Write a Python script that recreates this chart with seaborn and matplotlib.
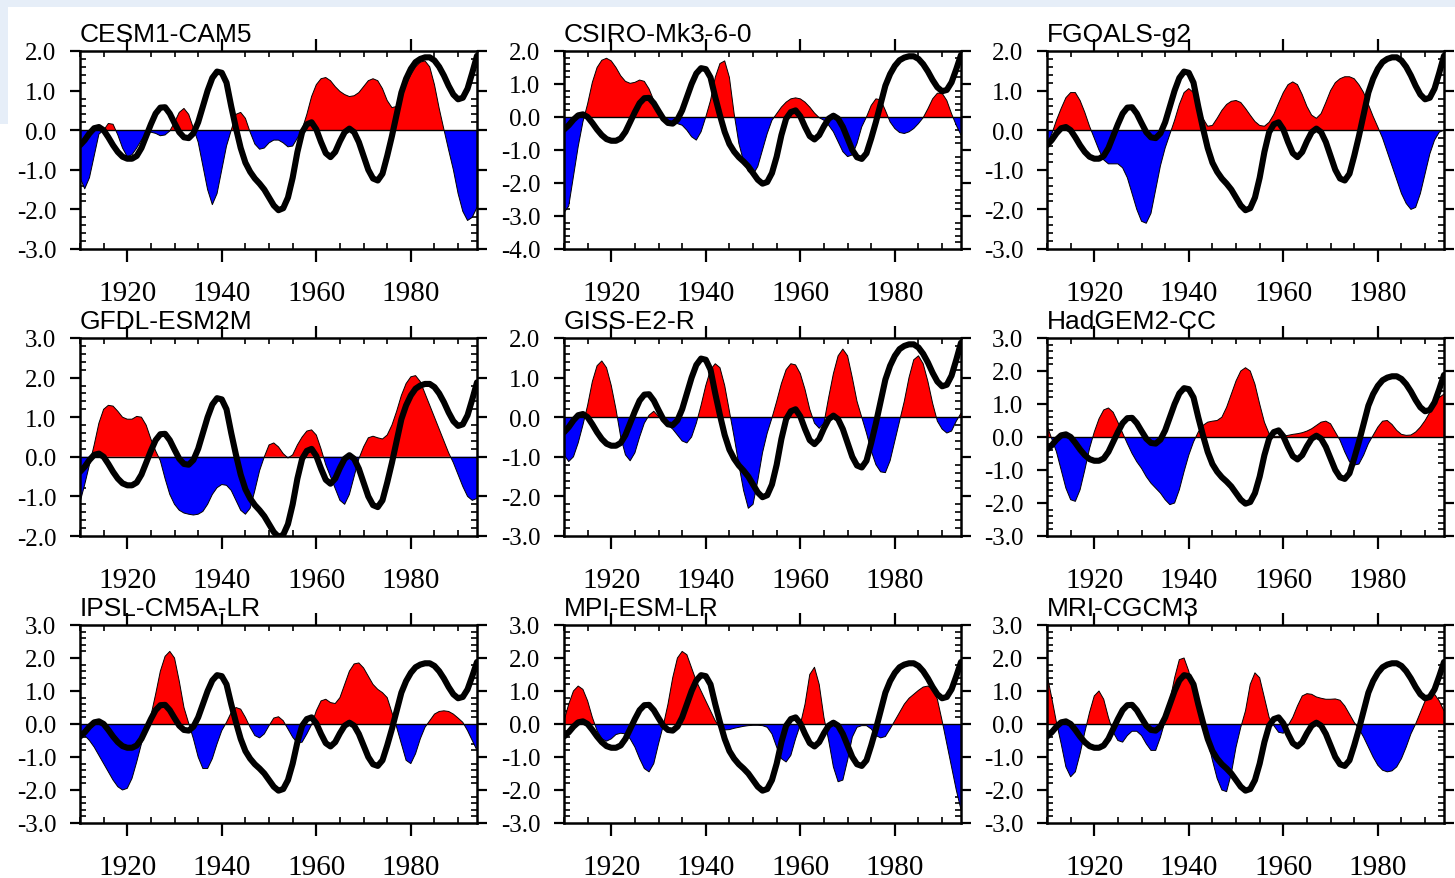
import numpy as np
import matplotlib
matplotlib.use("Agg")
import matplotlib.pyplot as plt
import seaborn as sns
from matplotlib.patches import Rectangle
from matplotlib.ticker import MultipleLocator, FormatStrFormatter

# --------------------------------------------
# Data (one value per year)
# --------------------------------------------
years = np.arange(1910, 1995)

# thick black index, same curve in every panel
obs_index = [
    -0.38, -0.25, -0.08, 0.05, 0.08, 0.0, -0.18, -0.38, -0.55, -0.67,
    -0.72, -0.72, -0.65, -0.45, -0.15, 0.15, 0.42, 0.57, 0.58, 0.42,
    0.18, -0.05, -0.18, -0.2, -0.08, 0.2, 0.6, 1.0, 1.32, 1.48,
    1.45, 1.2, 0.6, 0.05, -0.45, -0.82, -1.05, -1.22, -1.35, -1.5,
    -1.7, -1.9, -2.02, -1.97, -1.7, -1.2, -0.55, -0.05, 0.15, 0.2,
    0.02, -0.3, -0.58, -0.68, -0.55, -0.28, -0.05, 0.04, -0.05, -0.3,
    -0.65, -1.0, -1.22, -1.27, -1.1, -0.65, -0.15, 0.4, 0.95, 1.3,
    1.55, 1.72, 1.8, 1.84, 1.84, 1.76, 1.6, 1.38, 1.12, 0.9,
    0.78, 0.82, 1.05, 1.45, 1.88,
]

cesm = [
    -1.2, -1.48, -1.2, -0.65, -0.1, 0.0, 0.17, 0.15, -0.12, -0.45,
    -0.67, -0.62, -0.45, -0.25, -0.08, -0.05, -0.08, -0.14, -0.12, -0.02,
    0.2, 0.45, 0.55, 0.4, 0.05, -0.3, -0.9, -1.5, -1.88, -1.6,
    -1.0, -0.4, 0.0, 0.4, 0.45, 0.3, -0.05, -0.35, -0.48, -0.45,
    -0.32, -0.25, -0.25, -0.32, -0.42, -0.4, -0.2, 0.02, 0.4, 0.85,
    1.15, 1.3, 1.33, 1.25, 1.1, 0.98, 0.9, 0.85, 0.87, 0.95,
    1.1, 1.25, 1.3, 1.25, 1.05, 0.75, 0.57, 0.6, 0.85, 1.15,
    1.4, 1.6, 1.72, 1.75, 1.6, 1.15, 0.55, 0.02, -0.5, -1.0,
    -1.6, -2.05, -2.28, -2.2, -1.95,
]

csiro = [
    -2.9, -2.7, -1.8, -0.9, -0.15, 0.4, 1.05, 1.5, 1.72, 1.78,
    1.7, 1.5, 1.25, 1.08, 1.02, 1.05, 1.12, 1.08, 0.85, 0.5,
    0.18, -0.02, -0.1, -0.18, -0.2, -0.25, -0.4, -0.6, -0.7, -0.45,
    0.0, 0.5, 1.2, 1.62, 1.7, 1.2, 0.1, -0.8, -1.35, -1.65,
    -1.75, -1.5, -1.0, -0.5, -0.1, 0.1, 0.3, 0.45, 0.55, 0.58,
    0.55, 0.45, 0.3, 0.12, -0.02, -0.1, -0.25, -0.45, -0.75, -1.05,
    -1.2, -1.15, -0.8, -0.3, 0.0, 0.35, 0.55, 0.52, 0.2, -0.15,
    -0.35, -0.47, -0.5, -0.45, -0.35, -0.2, -0.02, 0.25, 0.55, 0.72,
    0.72, 0.5, 0.1, -0.25, -0.55,
]

fgoals = [
    -0.35, -0.1, 0.25, 0.55, 0.82, 0.95, 0.95, 0.75, 0.45, 0.1,
    -0.2, -0.5, -0.75, -0.85, -0.85, -0.85, -0.95, -1.2, -1.6, -2.0,
    -2.3, -2.35, -2.1, -1.5, -0.9, -0.45, -0.1, 0.25, 0.65, 0.95,
    1.05, 0.95, 0.65, 0.3, 0.1, 0.12, 0.3, 0.5, 0.65, 0.73,
    0.75, 0.7, 0.55, 0.38, 0.22, 0.12, 0.1, 0.2, 0.4, 0.68,
    0.95, 1.15, 1.22, 1.15, 0.9, 0.6, 0.38, 0.3, 0.42, 0.7,
    1.0, 1.2, 1.3, 1.35, 1.35, 1.3, 1.15, 0.95, 0.65, 0.35,
    0.08, -0.2, -0.55, -0.9, -1.25, -1.6, -1.85, -2.0, -1.95, -1.6,
    -1.1, -0.6, -0.25, -0.05, 0.0,
]

gfdl = [
    -1.15, -0.7, -0.2, 0.3, 0.85, 1.2, 1.3, 1.28, 1.15, 1.0,
    0.95, 0.95, 1.02, 1.0, 0.8, 0.45, 0.15, -0.1, -0.55, -0.95,
    -1.2, -1.35, -1.42, -1.45, -1.47, -1.45, -1.38, -1.2, -0.95, -0.78,
    -0.7, -0.72, -0.85, -1.1, -1.35, -1.45, -1.3, -0.85, -0.35, 0.0,
    0.3, 0.35, 0.25, 0.08, -0.03, 0.05, 0.3, 0.5, 0.65, 0.68,
    0.55, 0.2, -0.2, -0.5, -0.8, -1.1, -1.2, -0.95, -0.5, -0.05,
    0.25, 0.48, 0.52, 0.48, 0.45, 0.55, 0.8, 1.15, 1.55, 1.85,
    2.02, 2.05, 1.9, 1.6, 1.3, 1.0, 0.7, 0.4, 0.1, -0.15,
    -0.45, -0.75, -1.0, -1.1, -1.05,
]

giss = [
    -0.95, -1.12, -1.0, -0.65, -0.2, 0.3, 0.9, 1.3, 1.42, 1.25,
    0.8, 0.2, -0.5, -0.95, -1.1, -0.9, -0.5, -0.15, 0.05, 0.15,
    0.02, -0.1, -0.2, -0.3, -0.45, -0.6, -0.65, -0.5, -0.15, 0.3,
    0.8, 1.2, 1.35, 1.25, 0.8, 0.15, -0.5, -1.2, -1.85, -2.3,
    -2.2, -1.6, -0.9, -0.4, -0.02, 0.4, 0.85, 1.2, 1.35, 1.32,
    1.1, 0.7, 0.2, -0.15, -0.28, -0.15, 0.5, 1.1, 1.55, 1.72,
    1.55, 1.0, 0.4, 0.0, -0.4, -0.85, -1.2, -1.38, -1.4, -1.1,
    -0.6, -0.1, 0.4, 1.0, 1.45, 1.55, 1.35, 0.9, 0.35, -0.1,
    -0.3, -0.4, -0.35, -0.1, 0.1,
]

hadgem = [
    0.35, -0.05, -0.45, -1.0, -1.55, -1.9, -1.95, -1.6, -1.0, -0.35,
    0.15, 0.55, 0.82, 0.88, 0.75, 0.45, 0.12, -0.2, -0.5, -0.75,
    -0.95, -1.2, -1.4, -1.55, -1.7, -1.9, -2.05, -2.0, -1.6, -1.05,
    -0.55, -0.15, 0.15, 0.35, 0.45, 0.48, 0.5, 0.6, 0.9, 1.3,
    1.7, 2.0, 2.1, 2.0, 1.6, 1.0, 0.45, 0.1, 0.02, 0.02,
    0.03, 0.05, 0.08, 0.1, 0.13, 0.18, 0.25, 0.35, 0.45, 0.48,
    0.4, 0.15, -0.1, -0.45, -0.75, -0.85, -0.82, -0.55, -0.2, 0.05,
    0.3, 0.48, 0.5, 0.38, 0.2, 0.08, 0.05, 0.06, 0.15, 0.3,
    0.5, 0.75, 1.0, 1.2, 1.3,
]

ipsl = [
    -0.2, -0.35, -0.5, -0.7, -0.95, -1.2, -1.45, -1.7, -1.9, -2.0,
    -1.95, -1.65, -1.15, -0.6, -0.15, 0.25, 0.9, 1.6, 2.05, 2.2,
    2.0, 1.3, 0.5, 0.02, -0.45, -1.0, -1.35, -1.35, -1.05, -0.6,
    -0.2, 0.05, 0.35, 0.5, 0.45, 0.2, -0.1, -0.35, -0.42, -0.3,
    -0.05, 0.18, 0.22, 0.1, -0.15, -0.4, -0.58, -0.55, -0.3, -0.02,
    0.4, 0.7, 0.75, 0.65, 0.62, 0.8, 1.2, 1.6, 1.82, 1.85,
    1.7, 1.45, 1.2, 1.05, 0.95, 0.8, 0.35, -0.1, -0.6, -1.1,
    -1.2, -0.9, -0.45, -0.1, 0.1, 0.3, 0.38, 0.4, 0.38, 0.3,
    0.18, 0.05, -0.2, -0.5, -0.8,
]

mpi = [
    0.1, 0.6, 1.0, 1.15, 1.05, 0.7, 0.2, -0.2, -0.45, -0.52,
    -0.45, -0.32, -0.28, -0.3, -0.45, -0.7, -1.05, -1.35, -1.45, -1.2,
    -0.6, -0.05, 0.6, 1.4, 2.0, 2.2, 2.1, 1.7, 1.3, 1.0,
    0.7, 0.4, 0.1, -0.12, -0.18, -0.17, -0.13, -0.1, -0.07, -0.05,
    -0.04, -0.04, -0.05, -0.1, -0.3, -0.7, -1.05, -1.15, -0.95, -0.45,
    -0.02, 0.6, 1.5, 1.72, 1.2, 0.2, -0.5, -1.3, -1.75, -1.7,
    -1.1, -0.4, -0.1, -0.05, -0.05, -0.15, -0.35, -0.42, -0.38, -0.15,
    0.1, 0.35, 0.6, 0.78, 0.9, 1.02, 1.12, 1.15, 1.05, 0.75,
    0.1, -0.6, -1.3, -2.0, -2.6,
]

mri = [
    1.5, 0.8, 0.05, -0.6, -1.3, -1.6, -1.45, -0.9, -0.25, 0.35,
    0.85, 1.0, 0.75, 0.2, -0.25, -0.5, -0.55, -0.35, -0.22, -0.22,
    -0.35, -0.6, -0.8, -0.8, -0.4, 0.1, 0.7, 1.4, 1.95, 2.0,
    1.6, 1.0, 0.4, 0.02, -0.5, -1.1, -1.65, -2.0, -2.05, -1.5,
    -0.7, -0.1, 0.4, 1.2, 1.55, 1.4, 0.8, 0.2, -0.05, -0.25,
    -0.28, -0.05, 0.2, 0.55, 0.85, 0.92, 0.9, 0.82, 0.78, 0.75,
    0.75, 0.76, 0.72, 0.55, 0.3, 0.05, -0.15, -0.4, -0.7, -1.0,
    -1.25, -1.4, -1.45, -1.42, -1.3, -1.05, -0.7, -0.3, 0.0, 0.35,
    0.7, 0.88, 0.9, 0.7, 0.4,
]

model_names = [
    "CESM1-CAM5", "CSIRO-Mk3-6-0", "FGOALS-g2",
    "GFDL-ESM2M", "GISS-E2-R", "HadGEM2-CC",
    "IPSL-CM5A-LR", "MPI-ESM-LR", "MRI-CGCM3",
]
model_series = [cesm, csiro, fgoals, gfdl, giss, hadgem, ipsl, mpi, mri]
y_limits = [(-3, 2), (-4, 2), (-3, 2),
            (-2, 3), (-3, 2), (-3, 3),
            (-3, 3), (-3, 3), (-3, 3)]

# --------------------------------------------
# Style
# --------------------------------------------
sns.set_theme(style="white")
plt.rcParams['font.family'] = ['Liberation Serif', 'DejaVu Serif']
plt.rcParams['axes.unicode_minus'] = False
plt.rcParams['text.color'] = 'black'

W, H = 1455, 879
fig = plt.figure(figsize=(W / 100, H / 100), dpi=100)
fig.patch.set_facecolor("white")

# faint blue slide background showing at the edges
fig.add_artist(Rectangle((0, 1 - 8 / H), 1, 8 / H, transform=fig.transFigure,
                         color="#e6eef8", lw=0, zorder=0))
fig.add_artist(Rectangle((0, 1 - 125 / H), 8 / W, 125 / H, transform=fig.transFigure,
                         color="#e6eef8", lw=0, zorder=0))

# panel boxes in pixels: left, top
col_left = [80, 564, 1047]
row_top = [52, 339, 626]
box_w, box_h = 397, 198

# --------------------------------------------
# Panels
# --------------------------------------------
for i, (name, vals, ylim) in enumerate(zip(model_names, model_series, y_limits)):
    r, c = divmod(i, 3)
    ax = fig.add_axes([col_left[c] / W, 1 - (row_top[r] + box_h) / H,
                       box_w / W, box_h / H])
    v = np.array(vals)

    ax.fill_between(years, 0, v, where=v >= 0, interpolate=True,
                    color="#ff0000", lw=0, zorder=1)
    ax.fill_between(years, 0, v, where=v <= 0, interpolate=True,
                    color="#0000ff", lw=0, zorder=1)
    sns.lineplot(x=years, y=v, ax=ax, color="black", lw=0.7, zorder=2)
    ax.axhline(0, color="black", lw=1.0, zorder=2)
    sns.lineplot(x=years, y=obs_index, ax=ax, color="black", lw=4.4, zorder=3,
                 solid_joinstyle="round", solid_capstyle="round")

    ax.set_xlim(1910, 1994)
    ax.set_ylim(*ylim)
    ax.set_xlabel("")
    ax.set_ylabel("")

    ax.set_xticks([1920, 1940, 1960, 1980])
    ax.xaxis.set_minor_locator(MultipleLocator(5))
    ax.yaxis.set_major_locator(MultipleLocator(1))
    ax.yaxis.set_minor_locator(MultipleLocator(0.2))
    ax.yaxis.set_major_formatter(FormatStrFormatter("%.1f"))

    ax.tick_params(axis="x", which="major", direction="out", length=9, width=1.6,
                   top=True, bottom=True, labelsize=21, pad=13, colors="black")
    ax.tick_params(axis="y", which="major", direction="out", length=7, width=1.6,
                   left=True, right=True, labelsize=18, pad=10, colors="black")
    ax.tick_params(axis="both", which="minor", direction="in", length=4, width=1.2,
                   top=True, bottom=True, left=True, right=True, colors="black")

    for s in ax.spines.values():
        s.set_visible(True)
        s.set_color("black")
        s.set_linewidth(1.8)

    ax.text(0, 1 + 10 / box_h, name, transform=ax.transAxes, ha="left",
            va="baseline", fontsize=19, color="black",
            family=["Liberation Sans", "DejaVu Sans"])

fig.savefig("out.png", dpi=100, facecolor=fig.get_facecolor())
print("Completed Successfully!")
